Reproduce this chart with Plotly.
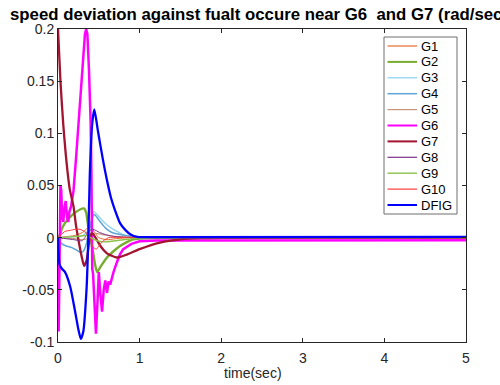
import plotly.graph_objects as go

# ---------------- data ----------------
names = ["G1", "G2", "G3", "G4", "G5", "G6", "G7", "G8", "G9", "G10", "DFIG"]
colors = ["#E8692A", "#77AC30", "#8FD3F2", "#5FA4D6", "#C8957A", "#FF00FF",
          "#A2142F", "#7E2F8E", "#8DC24A", "#FF3B3B", "#0000FF"]
widths = [1.0, 2.4, 1.3, 1.5, 1.2, 2.5, 2.3, 1.0, 1.4, 1.0, 2.3]

t_g1 = [0, 0.1, 0.2, 0.3, 0.36, 0.4, 0.45, 0.5, 0.6, 0.7, 0.9, 5]
y_g1 = [0, 0.001, 0.002, 0.005, 0.009, 0.01, 0.005, 0.0, -0.002, -0.001, 0, 0]

t_g2 = [0, 0.025, 0.05, 0.085, 0.15, 0.21, 0.27, 0.32, 0.345, 0.37, 0.40, 0.43,
        0.455, 0.48, 0.52, 0.6, 0.68, 0.76, 0.85, 0.92, 1.0, 1.2, 5]
y_g2 = [0, 0.003, 0.009, 0.014, 0.02, 0.024, 0.027, 0.028, 0.024, 0.011, -0.002,
        -0.014, -0.026, -0.033, -0.028, -0.019, -0.013, -0.008, -0.004, -0.0016,
        -0.0008, -0.0003, 0]

t_g3 = [0, 0.2, 0.3, 0.36, 0.4, 0.44, 0.48, 0.55, 0.62, 0.7, 0.8, 0.95, 1.2, 5]
y_g3 = [0, 0.001, 0.002, 0.006, 0.015, 0.025, 0.022, 0.016, 0.011, 0.007, 0.003,
        0.001, 0.0002, 0]

t_g4 = [0, 0.02, 0.05, 0.1, 0.17, 0.23, 0.27, 0.31, 0.34, 0.37, 0.40, 0.43, 0.45,
        0.5, 0.58, 0.66, 0.76, 0.86, 0.95, 1.1, 5]
y_g4 = [0, -0.004, -0.006, -0.008, -0.0095, -0.012, -0.014, -0.013, -0.008, 0.002,
        0.012, 0.021, 0.022, 0.017, 0.0094, 0.005, 0.003, 0.0015, 0.001, 0.0003, 0]

t_g5 = [0, 0.2, 0.3, 0.38, 0.45, 0.55, 0.7, 1.0, 5]
y_g5 = [0, -0.001, -0.002, 0.0, 0.004, 0.003, 0.001, 0, 0]

t_g6 = [0, 0.008, 0.015, 0.022, 0.03, 0.04, 0.05, 0.065, 0.08, 0.095, 0.11, 0.125,
        0.14, 0.16, 0.19, 0.22, 0.25, 0.28, 0.31, 0.33, 0.345, 0.36, 0.38, 0.40,
        0.41, 0.42, 0.43, 0.45, 0.465, 0.485, 0.5, 0.52, 0.54, 0.56, 0.58, 0.6,
        0.62, 0.64, 0.66, 0.68, 0.72, 0.76, 0.8, 0.9, 1.0, 1.2, 5]
y_g6 = [0, -0.09, -0.05, 0.03, 0.05, 0.045, 0.02, 0.015, 0.03, 0.035, 0.02, 0.015,
        0.025, 0.03, 0.045, 0.075, 0.11, 0.145, 0.18, 0.195, 0.2, 0.195, 0.16, 0.11,
        0.06, -0.03, -0.035, -0.07, -0.092, -0.06, -0.033, -0.055, -0.071, -0.05,
        -0.041, -0.053, -0.042, -0.045, -0.038, -0.033, -0.024, -0.016, -0.011,
        -0.006, -0.0035, -0.0027, -0.0025]

t_g7 = [0, 0.03, 0.065, 0.095, 0.12, 0.145, 0.19, 0.22, 0.25, 0.29, 0.32, 0.35,
        0.37, 0.39, 0.42, 0.46, 0.52, 0.6, 0.72, 0.85, 1.0, 1.25, 1.5, 1.75, 2.0, 5]
y_g7 = [0.2, 0.15, 0.108, 0.08, 0.061, 0.046, 0.03, 0.012, -0.002, -0.018, -0.027,
        -0.022, -0.011, 0.0, 0.004, 0.0, -0.008, -0.015, -0.019, -0.016, -0.011,
        -0.0047, -0.0016, -0.0005, -0.0002, 0]

t_g8 = [0, 0.1, 0.2, 0.29, 0.33, 0.37, 0.43, 0.51, 0.58, 0.66, 0.8, 1.0, 5]
y_g8 = [0, -0.001, -0.002, -0.003, 0.0, 0.006, 0.008, 0.005, 0.003, 0.0016, 0.0005, 0, 0]

t_g9 = [0, 0.2, 0.35, 0.45, 0.55, 0.7, 0.9, 1.2, 5]
y_g9 = [0, 0.001, 0.002, -0.002, -0.004, -0.003, -0.001, 0, 0]

t_g10 = [0, 0.04, 0.085, 0.15, 0.21, 0.27, 0.32, 0.37, 0.4, 0.43, 0.47, 0.53, 0.62, 0.75, 5]
y_g10 = [0, 0.003, 0.006, 0.007, 0.008, 0.008, 0.006, 0.003, -0.002, -0.009, -0.011,
         -0.0047, 0, 0.0003, 0]

t_dfig = [0, 0.02, 0.05, 0.086, 0.15, 0.21, 0.25, 0.28, 0.31, 0.35, 0.37, 0.39, 0.42,
          0.445, 0.49, 0.55, 0.6, 0.65, 0.7, 0.76, 0.83, 0.89, 0.97, 1.1, 5]
y_dfig = [0, -0.026, -0.03, -0.033, -0.047, -0.071, -0.088, -0.097, -0.09, -0.049,
          -0.005, 0.061, 0.11, 0.123, 0.102, 0.075, 0.055, 0.038, 0.026, 0.014,
          0.007, 0.003, 0.0007, 0.0005, 0.0007]

series_t = [t_g1, t_g2, t_g3, t_g4, t_g5, t_g6, t_g7, t_g8, t_g9, t_g10, t_dfig]
series_y = [y_g1, y_g2, y_g3, y_g4, y_g5, y_g6, y_g7, y_g8, y_g9, y_g10, y_dfig]

x_ticks = [0, 1, 2, 3, 4, 5]
x_ticktext = ["0", "1", "2", "3", "4", "5"]
y_ticks = [-0.1, -0.05, 0, 0.05, 0.1, 0.15, 0.2]
y_ticktext = ["-0.1", "-0.05", "0", "0.05", "0.1", "0.15", "0.2"]

title_text = "speed deviation against fualt occure near G6  and G7 (rad/sec)"
x_label = "time(sec)"

# ---------------- figure ----------------
W, H = 500, 385
L, R, T, B = 58, 34, 29, 43
pw, ph = W - L - R, H - T - B
FONT = "Liberation Sans, Arial, Helvetica, sans-serif"
AX = "#262626"

fig = go.Figure()
for name, tt, yy, c, w in zip(names, series_t, series_y, colors, widths):
    shape = "linear" if name == "G6" else "spline"
    fig.add_trace(go.Scatter(x=tt, y=yy, mode="lines", name=name,
                             line=dict(color=c, width=w, shape=shape, smoothing=0.6),
                             showlegend=False))

def px2paper_x(px):
    return (px - L) / pw

def px2paper_y(py):
    return (H - B - py) / ph

# manual legend (MATLAB-style compact box)
shapes = [dict(type="rect", xref="paper", yref="paper",
               x0=px2paper_x(384), x1=px2paper_x(457),
               y0=px2paper_y(214), y1=px2paper_y(37),
               line=dict(color="#6e6e6e", width=1), fillcolor="white", layer="above")]
annotations = []
for i, (name, c, w) in enumerate(zip(names, colors, widths)):
    yc = 46 + 15.9 * i
    shapes.append(dict(type="line", xref="paper", yref="paper",
                       x0=px2paper_x(387.5), x1=px2paper_x(417),
                       y0=px2paper_y(yc), y1=px2paper_y(yc),
                       line=dict(color=c, width=max(1.2, min(w, 2.0))), layer="above"))
    annotations.append(dict(xref="paper", yref="paper", x=px2paper_x(419),
                            y=px2paper_y(yc), text=name, showarrow=False,
                            xanchor="left", yanchor="middle",
                            font=dict(family=FONT, size=13, color="#000000")))

annotations.append(dict(xref="paper", yref="paper", x=px2paper_x(253),
                        y=px2paper_y(373), text=x_label, showarrow=False,
                        xanchor="center", yanchor="middle",
                        font=dict(family=FONT, size=14, color=AX)))

fig.update_layout(
    width=W, height=H, autosize=False,
    margin=dict(l=L, r=R, t=T, b=B, pad=0),
    paper_bgcolor="white", plot_bgcolor="white",
    title=dict(text="<b>" + title_text + "</b>", x=10 / W, xanchor="left",
               y=1 - 14 / H, yanchor="middle",
               font=dict(family=FONT, size=16.8, color="#000000")),
    shapes=shapes, annotations=annotations,
    showlegend=False,
)
fig.update_xaxes(range=[0, 5], tickvals=x_ticks, ticktext=x_ticktext,
                 showgrid=False, zeroline=False, showline=True, linecolor=AX,
                 linewidth=1, mirror="allticks", ticks="inside", ticklen=4,
                 tickcolor=AX, ticklabelstandoff=3,
                 tickfont=dict(family=FONT, size=14, color=AX))
fig.update_yaxes(range=[-0.1, 0.2], tickvals=y_ticks, ticktext=y_ticktext,
                 showgrid=False, zeroline=False, showline=True, linecolor=AX,
                 linewidth=1, mirror="allticks", ticks="inside", ticklen=4,
                 tickcolor=AX, tickfont=dict(family=FONT, size=14, color=AX))

fig.write_html("out.html")
